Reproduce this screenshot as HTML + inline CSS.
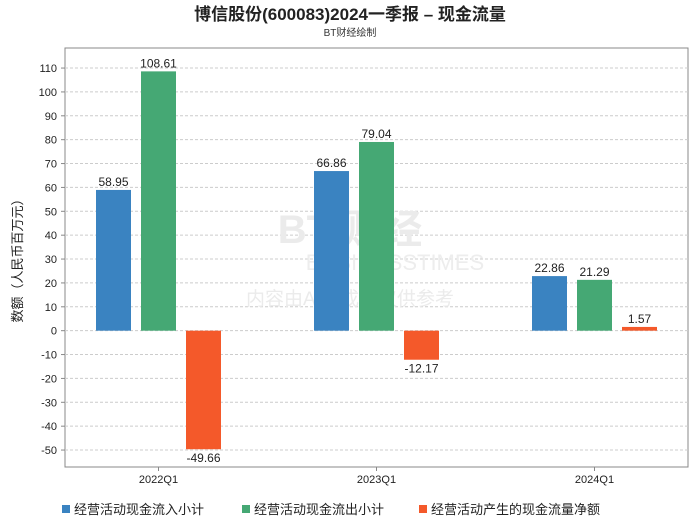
<!DOCTYPE html>
<html><head><meta charset="utf-8"><style>
body{margin:0;background:#fff;width:700px;height:524px;overflow:hidden;font-family:"Liberation Sans","Noto Sans CJK SC",sans-serif;}
svg text{font-family:"Liberation Sans","Noto Sans CJK SC",sans-serif;}
</style></head><body>
<svg id="c" width="700" height="524"></svg>
<script>
const categories=["2022Q1","2023Q1","2024Q1"];
const inflow=[58.95,66.86,22.86];
const outflow=[108.61,79.04,21.29];
const net=[-49.66,-12.17,1.57];
const yTicks=[110,100,90,80,70,60,50,40,30,20,10,0,-10,-20,-30,-40,-50];
const seriesNames=["经营活动现金流入小计","经营活动现金流出小计","经营活动产生的现金流量净额"];
const colors=["#3a83c1","#45a874","#f4592a"];
const NS="http://www.w3.org/2000/svg";
const svg=document.getElementById('c');
function mk(t,a,txt){const e=document.createElementNS(NS,t);for(const k in a)e.setAttribute(k,a[k]);if(txt!==undefined)e.textContent=txt;svg.appendChild(e);return e;}
const L=65,R=688,T=48,B=467;
const yMin=-57.1,yMax=118.4;
function y(v){return B-(v-yMin)/(yMax-yMin)*(B-T);}
const gw=218;
function x(i){return (L+R)/2+gw*(i-(categories.length-1)/2);}
let e;
e=mk('text',{x:350,y:20,'text-anchor':'middle','font-size':17,'font-weight':'bold',fill:'#222'},'博信股份(600083)2024一季报 – 现金流量');

e=mk('text',{x:350,y:36,'text-anchor':'middle','font-size':10,fill:'#333'},'BT财经绘制');

e=mk('rect',{x:L,y:T,width:R-L,height:B-T,fill:'#fff',stroke:'#888','stroke-width':1});

yTicks.forEach(t=>{
 const g=mk('line',{x1:L,x2:R,y1:y(t),y2:y(t),stroke:'#ccc','stroke-dasharray':'3,2'});
 
 const tl=mk('text',{x:L-8,y:y(t)+4,'text-anchor':'end','font-size':11,fill:'#222'},String(t));
 
 mk('line',{x1:L-4,x2:L,y1:y(t),y2:y(t),stroke:'#888'});
});
e=mk('text',{x:0,y:0,'text-anchor':'middle','font-size':13,fill:'#222',transform:`translate(22,${(T+B)/2}) rotate(-90)`},'数额（人民币百万元）');

e=mk('text',{x:350,y:243,'text-anchor':'middle','font-size':40,fill:'#ebebeb','font-weight':'bold'},'BT 财经');

e=mk('text',{x:395,y:270,'text-anchor':'middle','font-size':22,fill:'#ededed'},'BUSINESSTIMES');

e=mk('text',{x:350,y:305,'text-anchor':'middle','font-size':19,fill:'#ebebeb'},'内容由AI生成，仅供参考');

const series=[inflow,outflow,net];
const bw=35,offs=[-45,0,45];
categories.forEach((c,i)=>{
 series.forEach((s,k)=>{
  const v=s[i],cx=x(i)+offs[k];
  const y0=y(0),yv=y(v);
  const b=mk('rect',{x:cx-bw/2,y:Math.min(y0,yv),width:bw,height:Math.abs(y0-yv),fill:colors[k]});
  
  const lab=mk('text',{x:cx,y:v>=0?yv-4:yv+13,'text-anchor':'middle','font-size':12,fill:'#222'},v.toFixed(2));
  
 });
 mk('line',{x1:x(i),x2:x(i),y1:B,y2:B+4,stroke:'#888'});
 const xl=mk('text',{x:x(i),y:B+16,'text-anchor':'middle','font-size':11,fill:'#222'},c);
 
});
const lx=[62,242,419];
seriesNames.forEach((n,k)=>{
 const r=mk('rect',{x:lx[k],y:505,width:8,height:8,fill:colors[k]});
 
 const t=mk('text',{x:lx[k]+12,y:514,'font-size':13,fill:'#222'},n);
 
});
</script>
</body></html>
